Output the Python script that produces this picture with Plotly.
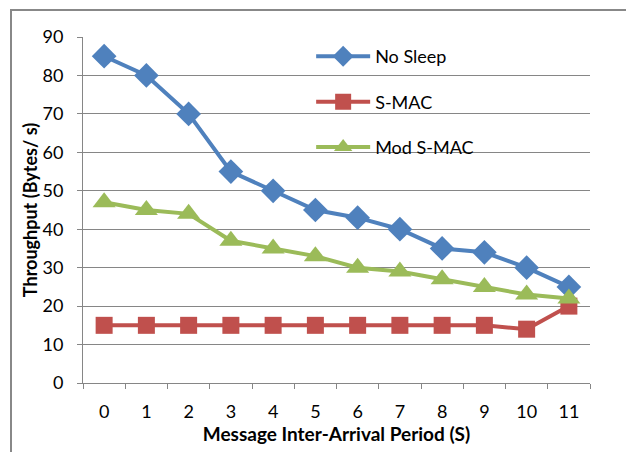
import plotly.graph_objects as go

categories = ["0", "1", "2", "3", "4", "5", "6", "7", "8", "9", "10", "11"]
no_sleep = [85, 80, 70, 55, 50, 45, 43, 40, 35, 34, 30, 25]
s_mac = [15, 15, 15, 15, 15, 15, 15, 15, 15, 15, 14, 20]
mod_s_mac = [47, 45, 44, 37, 35, 33, 30, 29, 27, 25, 23, 22]

series_names = ["No Sleep", "S-MAC", "Mod S-MAC"]
y_ticks = [0, 10, 20, 30, 40, 50, 60, 70, 80, 90]

FONT = "Lato, 'Open Sans', sans-serif"

fig = go.Figure()
styles = [
    (no_sleep, "#4F81BD", "diamond", 19),
    (s_mac, "#C0504D", "square", 17),
    (mod_s_mac, "#9BBB59", "triangle-up", 20),
]
for i, (name, (vals, col, sym, sz)) in enumerate(zip(series_names, styles)):
    fig.add_trace(go.Scatter(
        x=categories, y=vals, name=name, mode="lines+markers",
        line=dict(color=col, width=4),
        marker=dict(symbol=sym, size=sz, color=col),
        legendgroup=f"g{i}",
    ))

fig.update_layout(
    width=634, height=452,
    margin=dict(l=75, r=52, t=29, b=77),
    paper_bgcolor="white", plot_bgcolor="white",
    font=dict(family=FONT, size=18, color="black"),
    showlegend=True,
    legend=dict(x=0.45, y=0.997, xanchor="left", yanchor="top",
                bgcolor="rgba(0,0,0,0)", font=dict(size=18, family=FONT),
                tracegroupgap=19, itemwidth=54),
    xaxis=dict(
        type="category", showgrid=False, showline=True, linecolor="#868686", linewidth=1,
        ticks="outside", tickson="boundaries", ticklen=5, tickcolor="#868686",
        tickfont=dict(size=18), range=[-0.5, 11.5], ticklabelstandoff=12,
        title=dict(text="<b>Message Inter-Arrival Period (S)</b>", font=dict(size=19), standoff=2),
    ),
    yaxis=dict(
        range=[0, 90], tickvals=y_ticks, showgrid=True, gridcolor="#868686", gridwidth=1,
        showline=True, linecolor="#868686", linewidth=1, ticks="outside", ticklen=5,
        tickcolor="#868686", tickfont=dict(size=18), zeroline=False, ticklabelstandoff=10,
        title=dict(text="<b>Throughput (Bytes/ s)</b>", font=dict(size=18), standoff=0),
    ),
)

fig.add_shape(type="rect", xref="paper", yref="paper",
              x0=(3 - 75) / 507, x1=(622 - 75) / 507,
              y0=(375 - 460) / 346, y1=(375 - 2) / 346,
              line=dict(color="#888888", width=2), layer="below")

fig.write_html("out.html")
